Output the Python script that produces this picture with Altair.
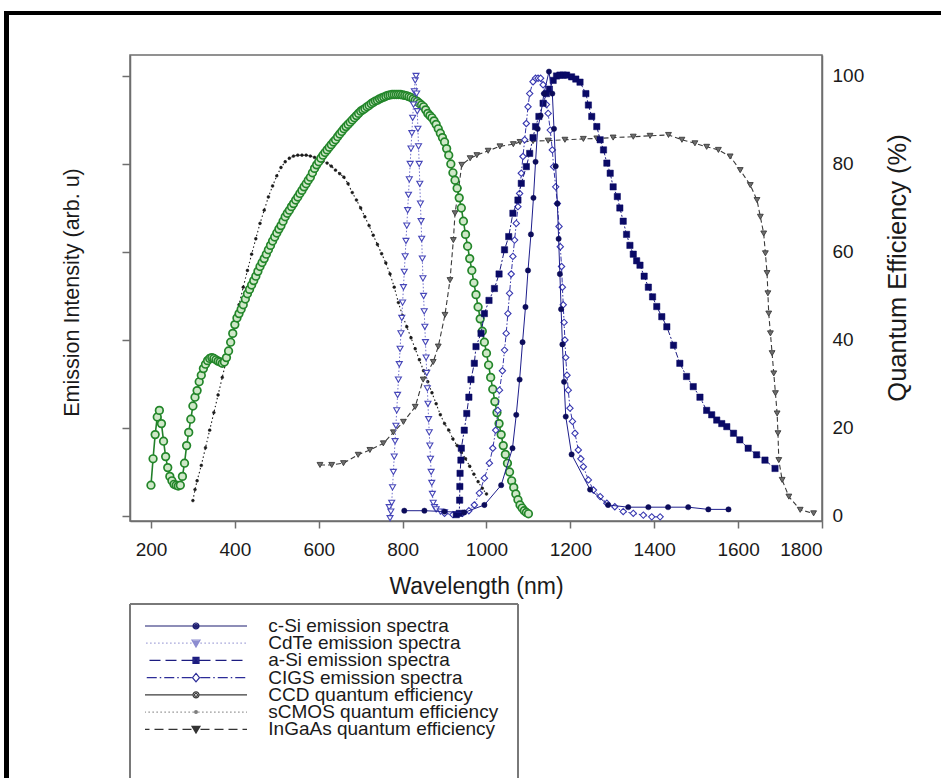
import altair as alt
import pandas as pd

FONT = "Liberation Sans"

# ---------------- data ----------------
x_ticks = [200, 400, 600, 800, 1000, 1200, 1400, 1600, 1800]
y_ticks = [0, 20, 40, 60, 80, 100]

series_names = [
    "c-Si emission spectra",
    "CdTe emission spectra",
    "a-Si emission spectra",
    "CIGS emission spectra",
    "CCD quantum efficiency",
    "sCMOS quantum efficiency",
    "InGaAs quantum efficiency",
]

csi_nm = [804, 852, 900, 947, 995, 1035, 1062, 1071, 1079, 1086, 1093, 1099, 1106, 1112, 1117,
          1122, 1129, 1137, 1149, 1157, 1161, 1165, 1169, 1172, 1175, 1178, 1181, 1185, 1189,
          1203, 1247, 1290, 1338, 1386, 1433, 1481, 1529, 1577]
csi_val = [1.2, 1.2, 1.0, 0.8, 2.5, 7, 15.4, 23, 31, 39.5, 47.5, 55.8, 64, 72.3, 80.5,
           88, 91, 96, 101, 96, 88, 79.5, 71, 63, 55, 47, 39, 30.5, 22.6,
           14, 6, 2.5, 2, 2, 2, 2, 1.5, 1.5]

cdte_nm = [768, 770, 772, 774, 776, 778, 780, 782, 784, 786, 788, 790, 792, 794, 796, 798, 800,
           802, 804, 806, 808, 810, 812, 814, 816, 818, 820, 822, 824, 826, 828, 830, 832,
           833.5, 835, 836.5, 838, 839.5, 841, 842.5, 844, 845.5, 847, 848.5, 850, 851.5, 853,
           854.5, 856, 857.5, 859, 860.5, 862, 863.5, 865, 866.5, 868, 869.5, 871, 873, 876,
           880, 890, 900]
cdte_val = [2.0, -0.5, 1.0, 3, 6.5, 10, 13.5, 17, 20.5, 24, 27.5, 31, 34.5, 38, 41.5, 45, 48.5,
            52, 55.5, 59, 62.5, 66, 69.5, 73, 76.5, 80, 83.5, 87, 90.5, 93.5, 96.5, 99, 100,
            96, 92, 88, 84, 80, 75.5, 71, 67, 63, 58.5, 54, 50, 46.5, 43,
            39.5, 36, 32.5, 29, 25.5, 22, 19, 16, 13, 10, 7.5, 5, 3, 2,
            1.5, 1.0, 0.8]

asi_nm = [928, 935, 936, 936.5, 937, 939, 940, 947, 953, 958, 963, 971, 975, 987, 995, 1006,
          1019, 1030, 1043, 1053, 1063, 1075, 1083, 1095, 1103, 1111, 1117, 1125, 1135, 1143,
          1150, 1159, 1167, 1175, 1183, 1191, 1203, 1213, 1223, 1237, 1243, 1251, 1263, 1271,
          1279, 1287, 1295, 1302, 1312, 1318, 1326, 1334, 1342, 1350, 1358, 1366, 1376, 1386,
          1396, 1406, 1418, 1430, 1446, 1461, 1477, 1493, 1509, 1525, 1537, 1549, 1561, 1573,
          1589, 1604, 1624, 1644, 1664, 1688]
asi_val = [0.3, 0.6, 3.6, 6.7, 9.7, 12.7, 15.4, 19.5, 23.3, 27, 31, 34.7, 38.5, 41.5, 46, 49,
           51.7, 55, 60.5, 63.5, 68.8, 71.8, 75.6, 79.4, 82.4, 86, 88.5, 90.8, 93.8, 96,
           97, 99, 100, 100.2, 100.2, 100.2, 99.8, 99.3, 98.6, 96, 93.4, 90.8, 88.5, 85.5,
           83.2, 80.2, 77.9, 74.8, 72.6, 70, 67, 64, 61.5, 59.5, 58, 57, 54.5, 52,
           49.8, 47.6, 45.3, 43, 38.8, 34.7, 31.7, 29.4, 27, 24, 23, 21.8, 21, 20.3,
           18.8, 17.3, 15.4, 13.9, 12.7, 10.8]

cigs_nm = [900, 920, 943, 958, 971, 983, 995, 1007, 1015, 1022, 1027, 1031, 1038, 1043, 1047,
           1051, 1055, 1059, 1063, 1067, 1071, 1075, 1079, 1083, 1087, 1091, 1095, 1099, 1103,
           1111, 1117, 1123, 1129, 1135, 1139, 1143, 1147, 1152, 1157, 1160, 1165, 1169, 1173,
           1176, 1179, 1181, 1183, 1185, 1187, 1189, 1192, 1195, 1199, 1205, 1211, 1219, 1225,
           1231, 1243, 1255, 1271, 1287, 1306, 1326, 1350, 1374, 1394, 1414]
cigs_val = [0.6, 0.3, 0.6, 1.2, 2.5, 5.2, 8.6, 12, 15.4, 19.5, 24, 28.6, 33, 37.7, 41.5,
            46, 50.6, 55, 59, 62.7, 66.5, 70.3, 73.3, 77.9, 81.7, 85.5, 89.2, 93, 96,
            98.7, 99.5, 99.5, 99.5, 98, 96, 93.5, 91.5, 87.7, 83.2, 79.4, 74.8, 71, 65.8,
            61.2, 56.7, 52, 48, 44, 40, 36, 32, 28.6, 24.5, 21.5, 18.8, 15, 13,
            11.2, 8.2, 5.9, 4.4, 2.9, 2.1, 1.0, 0.6, 0.2, -0.2, -0.2]

ccd_nm = list(range(200, 1101, 5))
ccd_val = [7, 13, 18.5, 22.5, 24, 21, 17, 13.5, 11, 9, 8, 7.2, 7, 6.8, 7, 9, 12, 16, 19, 22,
           25, 27, 28.5, 30.5, 32, 33.5, 34.5, 35.3, 35.8, 36, 35.8, 35.5, 35.2, 35, 34.7, 35,
           36, 37.5, 39.5, 41.5, 43.5, 45, 46, 47, 48, 49.3, 50.5, 51.5, 52.5, 53.5, 54.5,
           55.6, 56.7, 57.6, 58.5, 59.5, 60.5, 61.5, 62.5, 63.4, 64.3, 65.2, 66, 67, 68, 68.8,
           69.5, 70.3, 71, 71.8, 72.5, 73.3, 74, 74.8, 75.5, 76.3, 77, 78, 79, 79.8, 80.5,
           81.3, 82, 82.6, 83.2, 83.8, 84.4, 85, 85.5, 86.2, 86.8, 87.4, 88, 88.5, 89, 89.5,
           90, 90.5, 91, 91.5, 92, 92.3, 92.6, 93, 93.3, 93.7, 94, 94.3, 94.5, 94.8, 95, 95.2,
           95.4, 95.6, 95.7, 95.8, 95.8, 95.8, 95.8, 95.8, 95.7, 95.6, 95.5, 95.3, 95.1, 94.8,
           94.5, 94.2, 93.8, 93.4, 93, 92.3, 91.5, 91, 90.5, 89.8, 89, 88, 87, 86, 85, 83.5,
           82, 80, 78, 76.3, 74.5, 72.3, 70, 67, 64, 61.3, 58.5, 55.8, 53, 50.3, 47.5, 44.8,
           42, 39.5, 37, 34.3, 31.5, 28.8, 26, 23.5, 21, 18.5, 16, 14, 12, 10, 8, 6.5, 5, 3.7,
           2.5, 1.8, 1.2, 0.8, 0.5]

scmos_nm = [300, 305, 310, 320, 330, 340, 350, 360, 370, 380, 390, 400, 410, 420, 430, 440, 450,
            460, 470, 480, 490, 500, 510, 520, 530, 540, 550, 560, 570, 580, 590, 600, 610, 620,
            630, 640, 650, 660, 670, 680, 690, 700, 710, 720, 730, 740, 750, 760, 770, 780, 790,
            800, 810, 820, 830, 840, 850, 860, 870, 880, 890, 900, 910, 920, 930, 940, 950, 960,
            970, 980, 990, 1000]
scmos_val = [3.5, 6, 8, 11.5, 15.5, 19.5, 23.5, 27.5, 31.5, 35.5, 39.8, 44, 48, 52, 55.8, 59.5,
             63, 66.5, 69.5, 72.5, 75, 77.3, 79.2, 80.5, 81.3, 81.8, 82, 82, 82, 81.8, 81.5, 81,
             80.6, 80.2, 79.5, 78.6, 77.8, 77, 75.5, 73.5, 71.8, 70, 68, 66, 63.8, 61.7, 59.6,
             57.5, 55, 52, 48.5, 45.5, 43, 40.5, 38, 35.5, 33, 30.5, 28, 25.5, 23, 21, 19.5,
             17.5, 16, 14.5, 13, 11.3, 9.5, 7.8, 6.3, 5]

ingaas_nm = [603, 631, 659, 694, 722, 754, 778, 802, 830, 849, 873, 885, 901, 913, 921, 925, 933,
             941, 961, 977, 1004, 1032, 1064, 1080, 1111, 1147, 1187, 1231, 1263, 1302, 1350,
             1390, 1434, 1466, 1497, 1525, 1553, 1581, 1605, 1629, 1645, 1653, 1661, 1665, 1669,
             1671, 1673, 1677, 1681, 1685, 1689, 1693, 1695, 1697, 1705, 1721, 1748, 1780]
ingaas_val = [11.6, 11.6, 12, 13.9, 15, 16.5, 19, 21.4, 24.8, 31, 35, 38.5, 45.7, 53.6, 62.7,
              68.8, 74, 79.8, 81.3, 82, 83, 84, 84.5, 85, 85.2, 85.3, 85.5, 85.7, 85.8, 86, 86.2,
              86.4, 86.6, 85.5, 84.7, 83.9, 83.2, 81.7, 78.6, 75.2, 71.8, 68, 64.2, 59.7, 55.2,
              50.6, 46, 41.5, 37, 32.4, 27.9, 23.3, 18.8, 12.7, 8.2, 4.4, 1.4, 0.6]

series_data = {
    "c-Si emission spectra": (csi_nm, csi_val),
    "CdTe emission spectra": (cdte_nm, cdte_val),
    "a-Si emission spectra": (asi_nm, asi_val),
    "CIGS emission spectra": (cigs_nm, cigs_val),
    "CCD quantum efficiency": (ccd_nm, ccd_val),
    "sCMOS quantum efficiency": (scmos_nm, scmos_val),
    "InGaAs quantum efficiency": (ingaas_nm, ingaas_val),
}

rows = []
for name, (xs, ys) in series_data.items():
    for i, (a, b) in enumerate(zip(xs, ys)):
        rows.append({"series": name, "nm": a, "val": b, "order": i})
df = pd.DataFrame(rows)

# ---------------- styles ----------------
style = {
    "sCMOS quantum efficiency": dict(line="#1a1a1a", dash=[1.5, 2.5], lw=1.1, shape="circle", size=8,
                                     fill="#1a1a1a", stroke="#1a1a1a", sw=0.5),
    "InGaAs quantum efficiency": dict(line="#3a3a3a", dash=[5, 3], lw=1.1, shape="triangle-down", size=34,
                                      fill="#6e6e6e", stroke="#3a3a3a", sw=0.9),
    "CCD quantum efficiency": dict(line="#22802a", dash=None, lw=1.6, shape="circle", size=58,
                                   fill="#cfe8c8", stroke="#23862a", sw=1.7),
    "CdTe emission spectra": dict(line="#7070cc", dash=[1.5, 2], lw=1.0, shape="triangle-down", size=36,
                                  fill="white", stroke="#4646b8", sw=1.1),
    "CIGS emission spectra": dict(line="#3434a8", dash=[5, 2, 1.5, 2], lw=1.0, shape="diamond", size=40,
                                  fill="white", stroke="#3838b0", sw=1.1),
    "a-Si emission spectra": dict(line="#1a1a80", dash=[6, 2, 2, 2], lw=1.0, shape="square", size=40,
                                  fill="#0a0a66", stroke="#0a0a66", sw=0.5),
    "c-Si emission spectra": dict(line="#1e1e8c", dash=None, lw=1.0, shape="circle", size=28,
                                  fill="#0c0c5a", stroke="#0c0c5a", sw=0.5),
}
draw_order = ["sCMOS quantum efficiency", "InGaAs quantum efficiency", "CCD quantum efficiency",
              "CdTe emission spectra", "CIGS emission spectra", "a-Si emission spectra",
              "c-Si emission spectra"]

X = alt.X("nm:Q", scale=alt.Scale(domain=[150, 1800], nice=False, zero=False),
          axis=alt.Axis(values=x_ticks, format="d", title="Wavelength (nm)", grid=False,
                        tickSize=7, labelPadding=12, labelFontSize=19,
                        titleFontSize=23, titleX=346, titleY=65,
                        titleAlign="center", titleBaseline="middle"))
yscale = alt.Scale(domain=[-1.14, 104.77], nice=False, zero=False)

left_axis = alt.Axis(values=y_ticks, labels=False, tickSize=8, grid=False,
                     title="Emission Intensity (arb. u)", titleFontSize=21.5,
                     titleAngle=270, titleX=-58, titleY=237,
                     titleAlign="center", titleBaseline="middle")
right_axis = alt.Axis(values=y_ticks, orient="right", ticks=False, grid=False,
                      labelPadding=10, labelFontSize=19, labelAlign="left",
                      title="Quantum Efficiency (%)", titleFontSize=25.5,
                      titleAngle=270, titleX=75, titleY=212.5,
                      titleAlign="center", titleBaseline="middle")

base = alt.Chart(df)
layers = []
for k, name in enumerate(draw_order):
    s = style[name]
    if k == 0:
        yax = left_axis
    elif k == 1:
        yax = right_axis
    else:
        yax = None
    Y = alt.Y("val:Q", scale=yscale, axis=yax)
    lkw = dict(color=s["line"], strokeWidth=s["lw"])
    if s["dash"]:
        lkw["strokeDash"] = s["dash"]
    line = base.transform_filter(alt.datum.series == name).mark_line(**lkw).encode(
        x=X, y=Y, order="order:Q")
    pts = base.transform_filter(alt.datum.series == name).mark_point(
        shape=s["shape"], size=s["size"], filled=True, fill=s["fill"], stroke=s["stroke"],
        strokeWidth=s["sw"], opacity=1).encode(x=X, y=alt.Y("val:Q", scale=yscale, axis=None))
    layers.append(line)
    layers.append(pts)

# ---------------- legend (symbols with custom paths + labels, own row scale) ----------------
HALF = 10.2  # half length of legend line, in symbol units (1 unit = 5 px)


def circle(r):
    return f"M{-r},0A{r},{r},0,1,1,{r},0A{r},{r},0,1,1,{-r},0Z"


def tri(k):
    return f"M{-0.8 * k:.3f},{-0.6 * k:.3f}L{0.8 * k:.3f},{-0.6 * k:.3f}L0,{0.75 * k:.3f}Z"


def sq(h):
    return f"M{-h},{-h}H{h}V{h}H{-h}Z"


def segs(pattern, start):
    out = []
    for sign in (-1, 1):
        pos, i = start, 0
        while pos < HALF:
            on, off = pattern[i % len(pattern)]
            end = min(pos + on, HALF)
            out.append(f"M{sign * pos:.2f},0L{sign * end:.2f},0")
            pos = end + off
            i += 1
    return "".join(out)


dia = "M0,-0.85L0.7,0L0,0.85L-0.7,0Z"

legend_paths = [
    segs([(20, 0)], 0.6) + circle(0.6) + circle(0.35) + circle(0.1),
    segs([(0.25, 0.55)], 0.9) + tri(1) + tri(0.55) + tri(0.15),
    segs([(2.2, 1.0)], 0.7) + sq(0.6) + sq(0.35) + sq(0.1),
    segs([(2.0, 0.6), (0.3, 0.6)], 0.85) + dia,
    segs([(20, 0)], 0.7) + circle(0.6) + circle(0.3),
    segs([(0.25, 0.55)], 0.45) + circle(0.28) + circle(0.08),
    segs([(1.8, 1.0)], 0.9) + tri(1) + tri(0.55) + tri(0.15),
]
legend_strokes = ["#1c1c70", "#8c8cd0", "#1c1c80", "#2c2c98", "#3c3c3c", "#7a7a7a", "#333333"]

legend_df = pd.DataFrame({"series": series_names})
row_scale = alt.Scale(type="point", domain=series_names, range=[571, 674.3], padding=0)
ROW = alt.Y("series:N", scale=row_scale, axis=None)

leg_symbols = alt.Chart(legend_df).mark_point(filled=False, size=100, strokeWidth=1.2,
                                              opacity=1).encode(
    x=alt.value(66), y=ROW,
    shape=alt.Shape("series:N", scale=alt.Scale(domain=series_names, range=legend_paths),
                    legend=None),
    stroke=alt.Stroke("series:N", scale=alt.Scale(domain=series_names, range=legend_strokes),
                      legend=None),
)
leg_labels = alt.Chart(legend_df).mark_text(align="left", baseline="middle", font=FONT,
                                            fontSize=19, color="#1a1a1a").encode(
    x=alt.value(138.3), y=ROW, text="series:N")
layers += [leg_symbols, leg_labels]

# legend frame and page border of the scanned figure (decoration)
frame_color = "#7a7a7a"
deco = [
    alt.Chart(legend_df).mark_rule(color=frame_color, strokeWidth=1.5).encode(
        x=alt.value(0), x2=alt.value(388), y=alt.value(549)),
    alt.Chart(legend_df).mark_rule(color=frame_color, strokeWidth=1.5).encode(
        x=alt.value(0), y=alt.value(549), y2=alt.value(725)),
    alt.Chart(legend_df).mark_rule(color=frame_color, strokeWidth=1.5).encode(
        x=alt.value(388), y=alt.value(549), y2=alt.value(725)),
    alt.Chart(legend_df).mark_rule(color="black", strokeWidth=4).encode(
        x=alt.value(-125), x2=alt.value(811), y=alt.value(-42)),
    alt.Chart(legend_df).mark_rule(color="black", strokeWidth=4.5).encode(
        x=alt.value(-123.5), y=alt.value(-44), y2=alt.value(725)),
]
layers += deco

chart = alt.layer(*layers).resolve_scale(y="independent").resolve_axis(y="independent").properties(
    width=692, height=466,
    autosize=alt.AutoSizeParams(type="none"),
    padding={"left": 130, "top": 55, "right": 119, "bottom": 257},
    background="white",
).configure_view(stroke="#6e6e6e", strokeWidth=1.5).configure_axis(
    labelFont=FONT, titleFont=FONT, labelColor="#1a1a1a", titleColor="#1a1a1a",
    titleFontWeight="normal", domainColor="#6e6e6e", domainWidth=1.5,
    tickColor="#6e6e6e", tickWidth=1.5,
)

chart.save("out.html", embed_options={"renderer": "svg", "actions": False})
